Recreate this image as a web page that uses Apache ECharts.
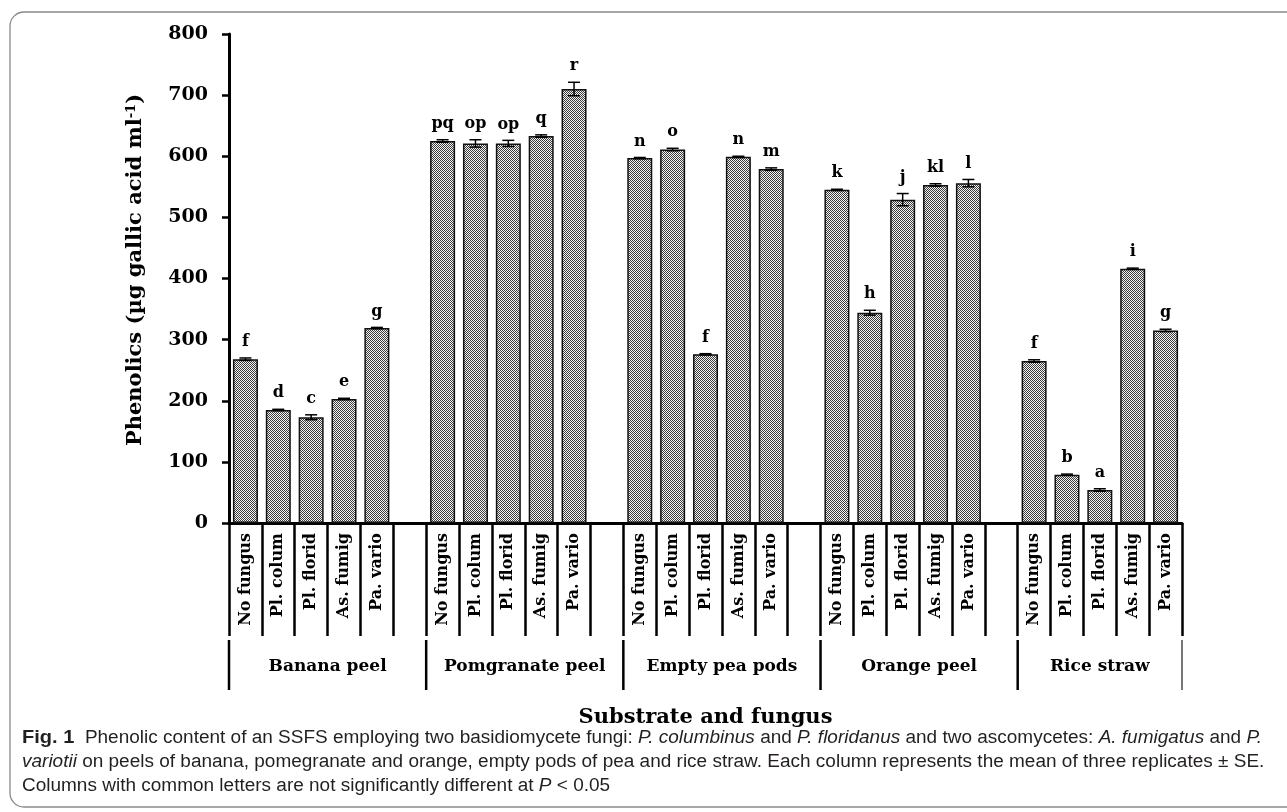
<!DOCTYPE html>
<html>
<head>
<meta charset="utf-8">
<title>Phenolic content of SSFS</title>
<script src="https://cdn.jsdelivr.net/npm/echarts@6/dist/echarts.min.js"></script>
<style>
  html, body { margin: 0; padding: 0; background: #fff; }
  #chart { width: 1287px; height: 812px; }
</style>
</head>
<body>
<div id="chart"></div>
<script>
// Substrates (outer category level) and treatments (inner level)
const substrates = ['Banana peel', 'Pomgranate peel', 'Empty pea pods', 'Orange peel', 'Rice straw'];
const treatments = ['No fungus', 'Pl. colum', 'Pl. florid', 'As. fumig', 'Pa. vario'];

// Mean phenolics (µg gallic acid ml-1) per substrate, in treatment order
const bananaPeel      = [268, 185, 173, 203, 319];
const pomegranatePeel = [625, 621, 621, 633, 710];
const emptyPeaPods    = [597, 611, 276, 599, 579];
const orangePeel      = [545, 344, 529, 553, 556];
const riceStraw       = [265, 79, 54, 416, 315];

// Standard errors
const bananaSE      = [2, 1, 4, 1, 1];
const pomegranateSE = [2, 6, 5, 2, 11];
const emptyPeaSE    = [1, 2, 1, 1, 2];
const orangeSE      = [1, 4, 10, 2, 6];
const riceSE        = [2, 1, 2, 1, 2];

// Significance letters
const bananaLetters      = ['f', 'd', 'c', 'e', 'g'];
const pomegranateLetters = ['pq', 'op', 'op', 'q', 'r'];
const emptyPeaLetters    = ['n', 'o', 'f', 'n', 'm'];
const orangeLetters      = ['k', 'h', 'j', 'kl', 'l'];
const riceLetters        = ['f', 'b', 'a', 'i', 'g'];

// Y axis ticks
const yMin = 0, yMax = 800, yStep = 100;

const means   = [bananaPeel, pomegranatePeel, emptyPeaPods, orangePeel, riceStraw];
const errors  = [bananaSE, pomegranateSE, emptyPeaSE, orangeSE, riceSE];
const letters = [bananaLetters, pomegranateLetters, emptyPeaLetters, orangeLetters, riceLetters];

// Build the flat category list: 5 treatments per substrate, a blank slot between substrates
const categories = [];
const barData = [];
const errData = [];     // [index, mean, se]
const errLetters = [];
const groupData = [];   // [firstIndex, 0, lastIndex]
substrates.forEach((s, g) => {
  const start = categories.length;
  treatments.forEach((t, k) => {
    const idx = categories.length;
    categories.push(t);
    barData.push(means[g][k]);
    errData.push([idx, means[g][k], errors[g][k]]);
    errLetters.push(letters[g][k]);
  });
  if (g < substrates.length - 1) {
    categories.push('');
    barData.push('-');
  }
  groupData.push([start, 0, categories.length - 1]);
});

// Fine checker fill used for the columns
function checkerPattern() {
  const c = document.createElement('canvas');
  c.width = 4; c.height = 4;
  const ctx = c.getContext('2d');
  ctx.fillStyle = '#f4f4f4';
  ctx.fillRect(0, 0, 4, 4);
  ctx.fillStyle = '#3c3c3c';
  for (let y = 0; y < 4; y++) {
    for (let x = 0; x < 4; x++) {
      if ((x + y) % 2 === 0) ctx.fillRect(x, y, 1, 1);
    }
  }
  return c;
}

const serif = 'DejaVu Serif';
const capFont = 'Liberation Sans';
const capScale = 1.055;
const chart = echarts.init(document.getElementById('chart'), null, { renderer: 'canvas' });

const option = {
  animation: false,
  backgroundColor: '#fff',
  grid: { left: 229, right: 105, top: 34, bottom: 289, containLabel: false },
  xAxis: {
    type: 'category',
    data: categories,
    boundaryGap: true,
    axisLine: { show: true, lineStyle: { color: '#000', width: 3 } },
    axisTick: { show: true, interval: 0, length: 113, lineStyle: { color: '#000', width: 2.5 } },
    axisLabel: {
      interval: 0, rotate: 90, margin: 10,
      fontFamily: serif, fontWeight: 'bold', fontSize: 16, color: '#000'
    },
    splitLine: { show: false },
    name: 'Substrate and fungus',
    nameLocation: 'middle',
    nameGap: 195,
    nameTextStyle: { fontFamily: serif, fontWeight: 'bold', fontSize: 21, color: '#000', verticalAlign: 'middle' }
  },
  yAxis: {
    type: 'value',
    min: yMin, max: yMax, interval: yStep,
    axisLine: { show: true, lineStyle: { color: '#000', width: 3 } },
    axisTick: { show: true, length: 7, lineStyle: { color: '#000', width: 2.5 } },
    axisLabel: { margin: 21, fontFamily: serif, fontWeight: 'bold', fontSize: 19, color: '#000' },
    splitLine: { show: false }
  },
  series: [
    {
      name: 'Phenolics',
      type: 'bar',
      data: barData,
      barWidth: 25,
      itemStyle: {
        color: { image: checkerPattern(), repeat: 'repeat' },
        borderColor: '#111',
        borderWidth: 1.5
      },
      z: 2
    },
    {
      // error bars (mean ± SE) with significance letters above
      name: 'SE',
      type: 'custom',
      data: errData,
      z: 3,
      renderItem: function (params, api) {
        const i = api.value(0), m = api.value(1), se = api.value(2);
        const top = api.coord([i, m + se]);
        const bot = api.coord([i, m - se]);
        const half = 6;
        const ls = { stroke: '#000', lineWidth: 1.5 };
        return {
          type: 'group',
          children: [
            { type: 'line', shape: { x1: top[0], y1: top[1], x2: bot[0], y2: bot[1] }, style: ls },
            { type: 'line', shape: { x1: top[0] - half, y1: top[1], x2: top[0] + half, y2: top[1] }, style: ls },
            { type: 'line', shape: { x1: bot[0] - half, y1: bot[1], x2: bot[0] + half, y2: bot[1] }, style: ls },
            {
              type: 'text', x: top[0], y: top[1] - 16,
              style: {
                text: errLetters[params.dataIndex], align: 'center', verticalAlign: 'middle',
                fontFamily: serif, fontWeight: 'bold', fontSize: 16, fill: '#000'
              }
            }
          ]
        };
      }
    },
    {
      // outer category level: substrate names with separators
      name: 'Substrate',
      type: 'custom',
      data: groupData,
      clip: false,
      silent: true,
      z: 3,
      renderItem: function (params, api) {
        const s = api.value(0), e = api.value(2);
        const band = api.size([1, 0])[0];
        const a = api.coord([s, 0]);
        const b = api.coord([e, 0]);
        const xl = a[0] - band / 2;
        const xr = b[0] + band / 2;
        const y0 = a[1];
        const ls = { stroke: '#000', lineWidth: 2.5 };
        const children = [
          { type: 'line', shape: { x1: xl, y1: y0 + 117, x2: xl, y2: y0 + 167 }, style: ls },
          {
            type: 'text', x: (xl + xr) / 2, y: y0 + 144,
            style: {
              text: substrates[params.dataIndex], align: 'center', verticalAlign: 'middle',
              fontFamily: serif, fontWeight: 'bold', fontSize: 17, fill: '#000'
            }
          }
        ];
        if (params.dataIndex === groupData.length - 1) {
          children.push({ type: 'line', shape: { x1: xr, y1: y0 + 117, x2: xr, y2: y0 + 167 },
                          style: { stroke: '#777', lineWidth: 2 } });
        }
        return { type: 'group', children: children };
      }
    }
  ],
  graphic: [
    {
      type: 'rect', z: -1, silent: true,
      shape: { x: 10, y: 12, width: 1300, height: 795, r: 14 },
      style: { fill: 'none', stroke: '#8a8a8a', lineWidth: 1.3 }
    },
    {
      type: 'text', x: 136, y: 270, rotation: Math.PI / 2,
      style: {
        text: 'Phenolics (µg gallic acid ml{s|-1})',
        align: 'center', verticalAlign: 'middle',
        fontFamily: serif, fontWeight: 'bold', fontSize: 21, fill: '#000',
        rich: { s: { fontFamily: serif, fontWeight: 'bold', fontSize: 13, verticalAlign: 'top', fill: '#000' } }
      }
    },
    {
      type: 'text', x: 22, y: 738, scaleX: capScale,
      style: {
        text: '{b|Fig. 1}  Phenolic content of an SSFS employing two basidiomycete fungi: {i|P. columbinus} and {i|P. floridanus} and two ascomycetes: {i|A. fumigatus} and {i|P.}',
        verticalAlign: 'middle', fontFamily: capFont, fontSize: 18, fill: '#231f20',
        rich: {
          b: { fontFamily: capFont, fontWeight: 'bold', fontSize: 19, fill: '#231f20' },
          i: { fontFamily: capFont, fontStyle: 'italic', fontSize: 18, fill: '#231f20' }
        }
      }
    },
    {
      type: 'text', x: 22, y: 762, scaleX: capScale,
      style: {
        text: '{i|variotii} on peels of banana, pomegranate and orange, empty pods of pea and rice straw. Each column represents the mean of three replicates ± SE.',
        verticalAlign: 'middle', fontFamily: capFont, fontSize: 18, fill: '#231f20',
        rich: { i: { fontFamily: capFont, fontStyle: 'italic', fontSize: 18, fill: '#231f20' } }
      }
    },
    {
      type: 'text', x: 22, y: 786, scaleX: capScale,
      style: {
        text: 'Columns with common letters are not significantly different at {i|P} < 0.05',
        verticalAlign: 'middle', fontFamily: capFont, fontSize: 18, fill: '#231f20',
        rich: { i: { fontFamily: capFont, fontStyle: 'italic', fontSize: 18, fill: '#231f20' } }
      }
    }
  ]
};

chart.setOption(option);
</script>
</body>
</html>
